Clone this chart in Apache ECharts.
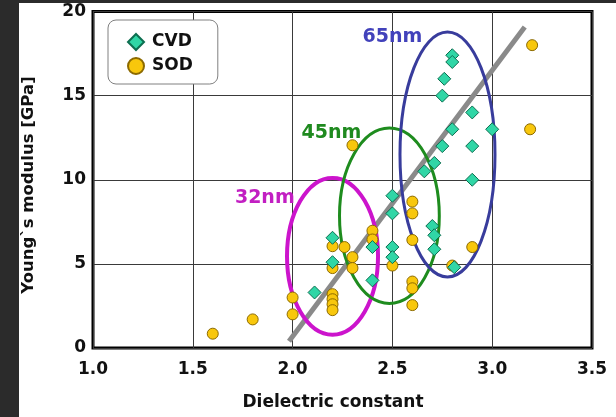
<!DOCTYPE html>
<html>
<head>
<meta charset="utf-8">
<script src="https://cdn.jsdelivr.net/npm/echarts@6/dist/echarts.min.js"></script>
<style>
  html, body { margin: 0; padding: 0; background: #2b2b2b; }
  #chart { position: absolute; left: 19px; top: 3px; width: 597px; height: 414px; background: #fff; }
</style>
</head>
<body>
<div id="chart"></div>
<script>
// Young's modulus vs. dielectric constant for low-k films
const xTicks = [1.0, 1.5, 2.0, 2.5, 3.0, 3.5];
const yTicks = [0, 5, 10, 15, 20];

// CVD films (diamonds)
const cvdK = [2.80, 2.80, 2.76, 2.75, 2.90, 2.80, 3.00, 2.75, 2.90, 2.71, 2.66, 2.90, 2.50,
              2.50, 2.70, 2.71, 2.71, 2.20, 2.20, 2.40, 2.50, 2.50, 2.40, 2.11, 2.81];
const cvdE = [17.4, 17.0, 16.0, 15.0, 14.0, 13.0, 13.0, 12.0, 12.0, 11.0, 10.5, 10.0, 9.05,
              8.0, 7.25, 6.7, 5.87, 6.55, 5.1, 6.0, 6.0, 5.4, 4.02, 3.3, 4.8];

// SOD films (circles)
const sodK = [3.20, 3.19, 2.30, 2.60, 2.60, 2.60, 2.90, 2.80, 2.40, 2.40, 2.20, 2.26, 2.30, 2.30,
              2.20, 2.50, 2.60, 2.60, 2.60, 2.20, 2.20, 2.20, 2.20, 2.00, 2.00, 1.80, 1.60];
const sodE = [18.0, 13.0, 12.05, 8.7, 8.0, 6.42, 6.0, 4.9, 6.97, 6.45, 6.05, 6.0, 5.4, 4.75,
              4.75, 4.9, 3.95, 3.55, 2.55, 3.2, 2.9, 2.6, 2.25, 3.0, 2.0, 1.7, 0.85];

// Trend line end points (k, E)
const trendK = [1.982, 3.163];
const trendE = [0.4, 19.08];

// Technology-node groupings: ellipse centre / half-extent in data units, label anchor
const nodeNames = ['32nm', '45nm', '65nm'];
const nodeCenterK = [2.200, 2.485, 2.776];
const nodeCenterE = [5.45, 7.86, 11.50];
const nodeHalfK = [0.228, 0.250, 0.238];
const nodeHalfE = [4.66, 5.21, 7.28];
const nodeLabelK = [1.711, 2.045, 2.350];
const nodeLabelE = [8.89, 12.77, 18.49];

const FONT = '"DejaVu Sans", Verdana, sans-serif';
const nodeStroke = ['#cc14cc', '#1e8c1e', '#383c9c'];
const nodeText = ['#c21fc2', '#1f8a1f', '#4242bb'];
const nodeWidth = [4, 3, 3];

const zip = (a, b) => a.map((v, i) => [v, b[i]]);

const chart = echarts.init(document.getElementById('chart'), null, { renderer: 'canvas' });

chart.setOption({
  backgroundColor: '#fff',
  animation: false,
  grid: {
    left: 74, right: 24, top: 8, bottom: 69,
    show: true, borderColor: '#000', borderWidth: 3, backgroundColor: 'transparent'
  },
  xAxis: {
    type: 'value', min: xTicks[0], max: xTicks[xTicks.length - 1], interval: 0.5,
    axisLine: { show: false }, axisTick: { show: false },
    splitLine: { show: true, lineStyle: { color: '#3a3a3a', width: 1 } },
    axisLabel: {
      margin: 13, color: '#111', fontFamily: FONT, fontWeight: 'bold', fontSize: 17,
      formatter: v => v.toFixed(1), showMinLabel: true, showMaxLabel: true
    }
  },
  yAxis: {
    type: 'value', min: yTicks[0], max: yTicks[yTicks.length - 1], interval: 5,
    axisLine: { show: false }, axisTick: { show: false },
    splitLine: { show: true, lineStyle: { color: '#3a3a3a', width: 1 } },
    axisLabel: {
      margin: 7, color: '#111', fontFamily: FONT, fontWeight: 'bold', fontSize: 17,
      showMinLabel: true, showMaxLabel: true
    }
  },
  legend: {
    orient: 'vertical', left: 89, top: 17,
    itemWidth: 16, itemHeight: 16, itemGap: 6,
    padding: [13, 25, 9, 19],
    backgroundColor: '#fff', borderColor: '#808080', borderWidth: 1, borderRadius: 8,
    textStyle: { color: '#111', fontFamily: FONT, fontWeight: 'bold', fontSize: 17, padding: [0, 0, 0, 3] },
    data: [{ name: 'CVD', icon: 'diamond' }, { name: 'SOD', icon: 'circle' }]
  },
  graphic: [
    {
      type: 'text', x: 314, y: 400,
      style: { text: 'Dielectric constant', font: 'bold 17px ' + FONT, fill: '#111',
               align: 'center', verticalAlign: 'middle' }
    },
    {
      type: 'text', x: 10, y: 182, rotation: Math.PI / 2,
      style: { text: 'Young`s modulus [GPa]', font: 'bold 16.5px ' + FONT, fill: '#111',
               align: 'center', verticalAlign: 'middle' }
    }
  ],
  series: [
    {
      type: 'line', name: 'trend', data: zip(trendK, trendE),
      symbol: 'none', silent: true, z: 1,
      lineStyle: { color: '#8a8a8a', width: 5, cap: 'butt' }
    },
    {
      type: 'custom', name: 'nodes', z: 2, silent: true,
      data: nodeNames.map((n, i) => [nodeCenterK[i], nodeCenterE[i], nodeHalfK[i], nodeHalfE[i],
                                     nodeLabelK[i], nodeLabelE[i], i]),
      renderItem: (params, api) => {
        const i = api.value(6);
        const c = api.coord([api.value(0), api.value(1)]);
        const s = api.size([api.value(2), api.value(3)]);
        const l = api.coord([api.value(4), api.value(5)]);
        return {
          type: 'group',
          children: [
            {
              type: 'ellipse',
              shape: { cx: c[0], cy: c[1], rx: s[0], ry: s[1] },
              style: { fill: null, stroke: nodeStroke[i], lineWidth: nodeWidth[i] }
            },
            {
              type: 'text',
              style: { text: nodeNames[i], x: l[0], y: l[1], fill: nodeText[i],
                       font: 'bold 19px ' + FONT, align: 'left', verticalAlign: 'middle' }
            }
          ]
        };
      }
    },
    {
      type: 'scatter', name: 'SOD', data: zip(sodK, sodE), z: 3,
      symbol: 'circle', symbolSize: 11,
      itemStyle: { color: '#f8c70c', borderColor: '#8c6a00', borderWidth: 1, opacity: 1 }
    },
    {
      type: 'scatter', name: 'CVD', data: zip(cvdK, cvdE), z: 4,
      symbol: 'diamond', symbolSize: 13,
      itemStyle: { color: '#30d6a6', borderColor: '#0d6e50', borderWidth: 1, opacity: 1 }
    }
  ]
});
</script>
</body>
</html>
